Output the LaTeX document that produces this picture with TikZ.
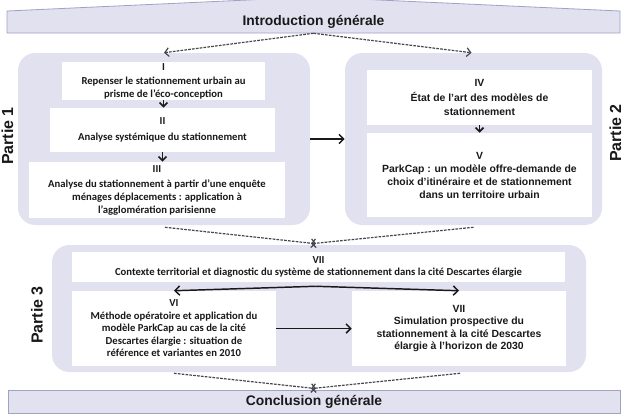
\documentclass[tikz,border=0pt]{standalone}
\usepackage{fontspec}
\setmainfont{Carlito}
\newfontfamily\arialf{Liberation Sans}
\usetikzlibrary{arrows.meta,calc}
\definecolor{lav}{RGB}{226,225,240}
\definecolor{lavb}{RGB}{158,163,196}
\definecolor{dashc}{RGB}{70,70,78}
\definecolor{arr}{RGB}{25,25,25}
\definecolor{txt}{RGB}{25,25,25}
\begin{document}
\begin{tikzpicture}[x=0.75pt,y=-0.75pt,
  sz/.style 2 args={minimum width=#1*0.75pt,minimum height=#2*0.75pt},
  part/.style={fill=lav,rounded corners=13pt,inner sep=0pt},
  wbox/.style={fill=white,inner sep=0pt,align=center,text=txt,font=\bfseries\fontsize{8}{9.4}\selectfont},
  abox/.style={wbox,font=\arialf\bfseries\fontsize{7.8}{9.4}\selectfont},
  band/.style={inner sep=0pt,text=txt,font=\arialf\bfseries\fontsize{10.4}{12}\selectfont},
  plabel/.style={rotate=90,text=txt,font=\arialf\bfseries\fontsize{12}{14}\selectfont,inner sep=0pt},
  dasharr/.style={draw=dashc,line width=0.9pt,dash pattern=on 2pt off 0.9pt,-{Straight Barb[length=3pt,width=6.5pt]}},
  solidarr/.style={draw=arr,line width=1.1pt,-{Straight Barb[length=3.5pt,width=7pt]}},
  smallarr/.style={draw=arr,line width=1.3pt,-{Straight Barb[length=3pt,width=6pt]}},
]
\useasboundingbox (0,0) rectangle (627,419);
\fill[white] (0,0) rectangle (627,419);

% introduction band with roof
\draw[lavb,line width=0.6pt,fill=lav] (7,33) -- (7,11) -- (313.5,-3) -- (620,11) -- (620,33) -- cycle;
\node[band,sz={613}{22}] (intro) at (313.5,22) {Introduction générale};

% conclusion band
\node[band,fill=lav,draw=lavb,line width=0.6pt,sz={612}{23}] (concl) at (314,401.5) {Conclusion générale};

% parts
\node[part,sz={292}{172}] (p1) at (164,139) {};
\node[part,sz={257}{172}] (p2) at (473.5,139) {};
\node[part,sz={534}{127}] (p3) at (319,308.5) {};

\node[plabel] (l1) at (7.5,136) {Partie 1};
\node[plabel] (l2) at (615.5,133) {Partie 2};
\node[plabel] (l3) at (37,315) {Partie 3};

% Partie 1 boxes
\node[wbox,sz={203}{38}] (b1) at (163.5,81) {I\\[1.5pt]Repenser le stationnement urbain au\\prisme de l’éco-conception};
\node[wbox,sz={225}{44}] (b2) at (162.5,130) {II\\[2.5pt]Analyse systémique du stationnement};
\node[wbox,sz={256}{56}] (b3) at (157,190) {III\\[2.5pt]Analyse du stationnement à partir d’une enquête\\ménages déplacements : application à\\l’agglomération parisienne};

% Partie 2 boxes
\node[abox,sz={225}{55}] (b4) at (479.5,97.5) {IV\\[2pt]État de l’art des modèles de\\[1.5pt]stationnement};
\node[abox,sz={225}{84}] (b5) at (479.5,175) {V\\[1pt]ParkCap : un modèle offre-demande de\\choix d’itinéraire et de stationnement\\dans un territoire urbain};

% Partie 3 boxes
\node[wbox,sz={493}{30}] (t7) at (318.5,267) {VII\\Contexte territorial et diagnostic du système de stationnement dans la cité Descartes élargie};
\node[wbox,sz={204}{75}] (b6) at (174,328.5) {VI\\Méthode opératoire et application du\\modèle ParkCap au cas de la cité\\Descartes élargie : situation de\\référence et variantes en 2010};
\node[abox,sz={214}{75}] (b7) at (459,328.5) {VII\\Simulation prospective du\\stationnement à la cité Descartes\\élargie à l’horizon de 2030};

% small arrows
\draw[smallarr] (b1.south) -- (b1.south |- b2.north);
\draw[smallarr] (b2.south) -- (b2.south |- b3.north);
\draw[smallarr] (b4.south) -- (b5.north);

% solid arrows
\draw[solidarr] (p1.east) -- (p2.west);
\draw[solidarr] ($(t7.south)+(-3,4)$) -- (b6.north);
\draw[solidarr] ($(t7.south)+(-3,4)$) -- (b7.north);
\draw[solidarr] (b6.east) -- (b7.west);

% dashed arrows
\draw[dasharr] (intro.south) -- (p1.north);
\draw[dasharr] (intro.south) -- ($(p2.north)+(-2,0)$);
\draw[dasharr] ($(p1.south)+(1,2)$) -- ($(p3.north)+(-3,-1)$);
\draw[dasharr] ($(p2.south)+(0,2)$) -- ($(p3.north)+(-8,-1)$);
\draw[dasharr] ($(b6.south |- p3.south)+(0,1)$) -- ($(concl.north)+(2,-1)$);
\draw[dasharr] ($(b7.south |- p3.south)+(1,1)$) -- ($(concl.north)+(-3,-1)$);
\end{tikzpicture}
\end{document}
